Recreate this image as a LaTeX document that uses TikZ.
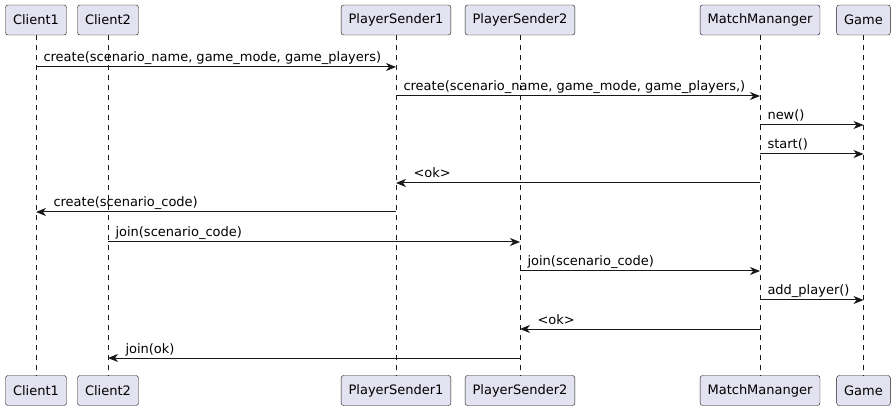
\documentclass[tikz,border=0pt]{standalone}
\usepackage{fontspec}
\setmainfont{DejaVu Sans}
\usetikzlibrary{arrows.meta}
\definecolor{partfill}{HTML}{E2E2F0}
\definecolor{linecol}{HTML}{181818}
\begin{document}
\begin{tikzpicture}[x=1pt,y=-1pt,
        part/.style={rectangle,rounded corners=2.5pt,draw=linecol,fill=partfill,minimum height=30pt,inner xsep=7.5pt,font=\fontsize{13pt}{15pt}\selectfont},
        life/.style={draw=linecol,line width=0.5pt,dash pattern=on 5pt off 5pt},
        msg/.style={draw=linecol,line width=1pt,-{Stealth[length=10pt,width=8pt,inset=3pt]}},
        lbl/.style={inner sep=0pt,font=\fontsize{13pt}{15pt}\selectfont},
        ]
        \useasboundingbox (0,0) rectangle (896,411);
        % participants (top and bottom)
        \node (c1t) [part] at (36,20) {Client1};
        \node (c2t) [part] at (108,20) {Client2};
        \node (ps1t) [part] at (396,20) {PlayerSender1};
        \node (ps2t) [part] at (520,20) {PlayerSender2};
        \node (mmt) [part] at (760,20) {MatchMananger};
        \node (gt) [part] at (863.5,20) {Game};
        \node (c1b) [part] at (36,390.5) {Client1};
        \node (c2b) [part] at (108,390.5) {Client2};
        \node (ps1b) [part] at (396,390.5) {PlayerSender1};
        \node (ps2b) [part] at (520,390.5) {PlayerSender2};
        \node (mmb) [part] at (760,390.5) {MatchMananger};
        \node (gb) [part] at (863.5,390.5) {Game};
        % lifelines
        \draw[life] (c1t) -- (c1b);
        \draw[life] (c2t) -- (c2b);
        \draw[life] (ps1t) -- (ps1b);
        \draw[life] (ps2t) -- (ps2b);
        \draw[life] (mmt) -- (mmb);
        \draw[life] (gt) -- (gb);
        % messages
        \draw[msg] (c1t |- 0,67) -- (ps1t |- 0,67)
            node[lbl,at start,anchor=base west,xshift=7pt,yshift=5pt] {create(scenario\_name, game\_mode, game\_players)};
        \draw[msg] (ps1t |- 0,96) -- (mmt |- 0,96)
            node[lbl,at start,anchor=base west,xshift=7pt,yshift=5pt] {create(scenario\_name, game\_mode, game\_players,)};
        \draw[msg] (mmt |- 0,125) -- (gt |- 0,125)
            node[lbl,at start,anchor=base west,xshift=7pt,yshift=5pt] {new()};
        \draw[msg] (mmt |- 0,154) -- (gt |- 0,154)
            node[lbl,at start,anchor=base west,xshift=7pt,yshift=5pt] {start()};
        \draw[msg] (mmt |- 0,183) -- (ps1t |- 0,183)
            node[lbl,at end,anchor=base west,xshift=17pt,yshift=5pt] {<ok>};
        \draw[msg] (ps1t |- 0,212) -- (c1t |- 0,212)
            node[lbl,at end,anchor=base west,xshift=17pt,yshift=5pt] {create(scenario\_code)};
        \draw[msg] (c2t |- 0,242) -- (ps2t |- 0,242)
            node[lbl,at start,anchor=base west,xshift=7pt,yshift=5pt] {join(scenario\_code)};
        \draw[msg] (ps2t |- 0,271) -- (mmt |- 0,271)
            node[lbl,at start,anchor=base west,xshift=7pt,yshift=5pt] {join(scenario\_code)};
        \draw[msg] (mmt |- 0,300) -- (gt |- 0,300)
            node[lbl,at start,anchor=base west,xshift=7pt,yshift=5pt] {add\_player()};
        \draw[msg] (mmt |- 0,329) -- (ps2t |- 0,329)
            node[lbl,at end,anchor=base west,xshift=17pt,yshift=5pt] {<ok>};
        \draw[msg] (ps2t |- 0,358) -- (c2t |- 0,358)
            node[lbl,at end,anchor=base west,xshift=17pt,yshift=5pt] {join(ok)};
\end{tikzpicture}
\end{document}
